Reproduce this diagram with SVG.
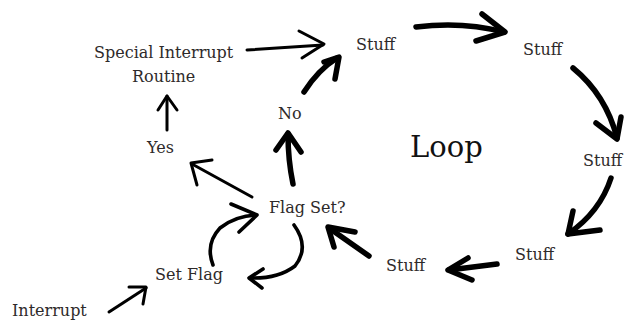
<svg xmlns="http://www.w3.org/2000/svg" width="624" height="322" viewBox="0 0 624 322">
<style>
.lbl{font-family:"DejaVu Serif","Liberation Serif",serif;font-size:16px;fill:#2e2a2a}
.big{font-family:"DejaVu Serif","Liberation Serif",serif;font-size:29px;fill:#111}
.a{fill:none;stroke:#000;stroke-linecap:round;stroke-linejoin:round}
.thin{stroke-width:3}
.mid{stroke-width:3.6}
.thick{stroke-width:5.5}
</style>
<rect width="624" height="322" fill="#fff"/>
<g id="connectors">
  <g id="e-sir-stuff1"><path class="a thin" d="M247 50 L323 45"/><path class="a thin" d="M299 31 L324 44 L302 58"/></g>
  <g id="e-no-stuff1"><path class="a thick" d="M304 92 Q318 70 337 58"/><path class="a thick" d="M324 62 L339 57 L335 79"/></g>
  <g id="e-stuff1-stuff2"><path class="a thick" d="M416 27 Q462 21 504 32"/><path class="a thick" d="M482 14 L505 32 L476 41"/></g>
  <g id="e-stuff2-stuffR"><path class="a thick" d="M573 68 Q606 95 617 138"/><path class="a thick" d="M596 123 L617 139 L621 117"/></g>
  <g id="e-stuffR-stuffLR"><path class="a thick" d="M611 178 Q600 212 568 234"/><path class="a thick" d="M573 211 L568 234 L600 230"/></g>
  <g id="e-stuffLR-stuffB"><path class="a thick" d="M497 264 L449 270"/><path class="a thick" d="M468 258 L448 270 L472 280"/></g>
  <g id="e-stuffB-flag"><path class="a thick" d="M369 256 L329 228"/><path class="a thick" d="M355 232 L328 227 L334 247"/></g>
  <g id="e-flag-no"><path class="a thick" d="M293 184 Q288 160 288 134"/><path class="a thick" d="M276 150 L288 133 L301 152"/></g>
  <g id="e-yes-sir"><path class="a thin" d="M167 130 L167 96"/><path class="a thin" d="M158 110 L167 96 L177 110"/></g>
  <g id="e-flag-yes"><path class="a thin" d="M252 197 L192 164"/><path class="a thin" d="M212 160 L191 163 L197 185"/></g>
  <g id="e-setflag-flag"><path class="a mid" d="M213 265 Q205 244 220 228 Q235 216 256 215"/><path class="a mid" d="M231 204 L257 215 L239 232"/></g>
  <g id="e-flag-setflag"><path class="a mid" d="M294 225 Q310 247 295 266 Q278 279 250 278"/><path class="a mid" d="M263 269 L249 278 L262 288"/></g>
  <g id="e-int-setflag"><path class="a thin" d="M109 312 L146 288"/><path class="a thin" d="M129 287 L146 287 L143 304"/></g>
</g>
<g id="n-sir"><text class="lbl" x="94" y="58">Special Interrupt</text><text class="lbl" x="132" y="82">Routine</text></g>
<g id="n-yes"><text class="lbl" x="147" y="153">Yes</text></g>
<g id="n-no"><text class="lbl" x="278" y="119">No</text></g>
<g id="n-flag"><text class="lbl" x="269" y="213">Flag Set?</text></g>
<g id="n-setflag"><text class="lbl" x="155" y="280">Set Flag</text></g>
<g id="n-interrupt"><text class="lbl" x="12" y="316">Interrupt</text></g>
<g id="n-stuff1"><text class="lbl" x="356" y="50">Stuff</text></g>
<g id="n-stuff2"><text class="lbl" x="523" y="55">Stuff</text></g>
<g id="n-stuffR"><text class="lbl" x="583" y="166">Stuff</text></g>
<g id="n-stuffLR"><text class="lbl" x="515" y="260">Stuff</text></g>
<g id="n-stuffB"><text class="lbl" x="386" y="271">Stuff</text></g>
<g id="loop"><text class="big" x="410" y="157">Loop</text></g>
</svg>
